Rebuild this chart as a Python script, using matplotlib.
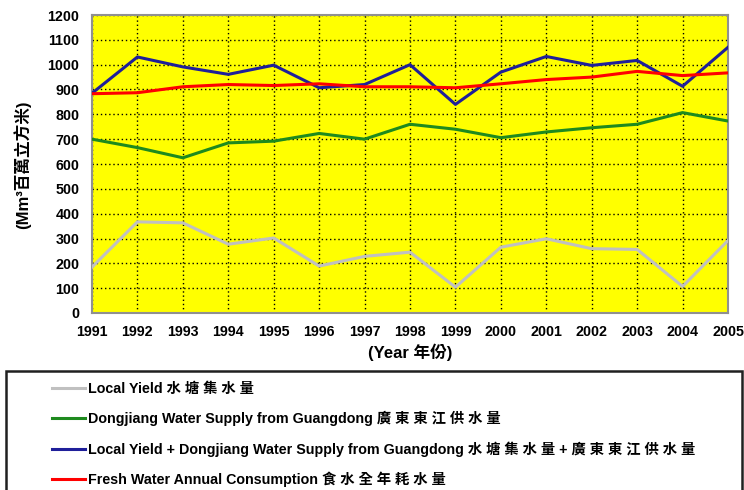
import matplotlib
matplotlib.use("Agg")
import matplotlib.pyplot as plt
from matplotlib.patches import Rectangle

years = list(range(1991, 2006))
local_yield = [185, 367, 363, 277, 302, 189, 228, 245, 104, 265, 299, 259, 256, 107, 292]
dongjiang = [700, 666, 625, 685, 692, 723, 700, 760, 740, 706, 729, 746, 760, 807, 773]
combined = [885, 1031, 991, 961, 998, 907, 920, 1000, 840, 970, 1033, 997, 1017, 913, 1070]
consumption = [883, 887, 911, 920, 916, 923, 911, 911, 907, 923, 940, 950, 973, 956, 967]
yticks = list(range(0, 1300, 100))

labels = [
    "Local Yield 水 塘 集 水 量",
    "Dongjiang Water Supply from Guangdong 廣 東 東 江 供 水 量",
    "Local Yield + Dongjiang Water Supply from Guangdong 水 塘 集 水 量 + 廣 東 東 江 供 水 量",
    "Fresh Water Annual Consumption 食 水 全 年 耗 水 量",
]
colors = ["#C0C0C0", "#1E8A1E", "#1F1F9A", "#FF0000"]

fam = ["Liberation Sans", "Noto Sans CJK TC", "DejaVu Sans"]
plt.rcParams["font.family"] = fam

fig = plt.figure(figsize=(7.44, 4.90), dpi=100)
ax = fig.add_axes([92/744, 1-313/490, (728-92)/744, (313-15)/490])
ax.set_facecolor("#FFFF00")

series = [local_yield, dongjiang, combined, consumption]
for vals, c, lab in zip(series, colors, labels):
    ax.plot(years, vals, color=c, lw=2.2, label=lab, zorder=3)

ax.set_xlim(1991, 2005)
ax.set_ylim(0, 1200)
ax.set_xticks(years)
ax.set_yticks(yticks)
ax.grid(True, color="black", linestyle=(0, (1, 2)), lw=1.0, zorder=1)
ax.set_axisbelow(True)
ax.tick_params(axis="both", length=0, pad=9, labelsize=10.3)
for t in ax.get_xticklabels() + ax.get_yticklabels():
    t.set_fontweight("bold")
for s in ax.spines.values():
    s.set_color("#909090")
    s.set_linewidth(1.5)

fig.text(22/744, 1-165/490, "(Mm³百萬立方米)", rotation=90, ha="center", va="center",
         fontsize=12, fontweight="bold")
fig.text(410/744, 1-352/490, "(Year 年份)", ha="center", va="center",
         fontsize=12, fontweight="bold")

# legend frame box (extends past the bottom edge, as in the reference)
fig.patches.append(Rectangle((6/744, -0.05), 736/744, (1-371/490) + 0.05,
                             transform=fig.transFigure, fill=False,
                             edgecolor="#202020", lw=1.8))

leg = fig.legend(loc="upper left", bbox_to_anchor=(52/744, 1-382/490),
                 ncol=1, frameon=False,
                 prop={"size": 10.3, "weight": "bold", "family": fam},
                 handlelength=2.3, handletextpad=0.2, labelspacing=1.05,
                 borderpad=0, borderaxespad=0)
for line in leg.get_lines():
    line.set_linewidth(2.2)

fig.savefig("out.png", dpi=100)
